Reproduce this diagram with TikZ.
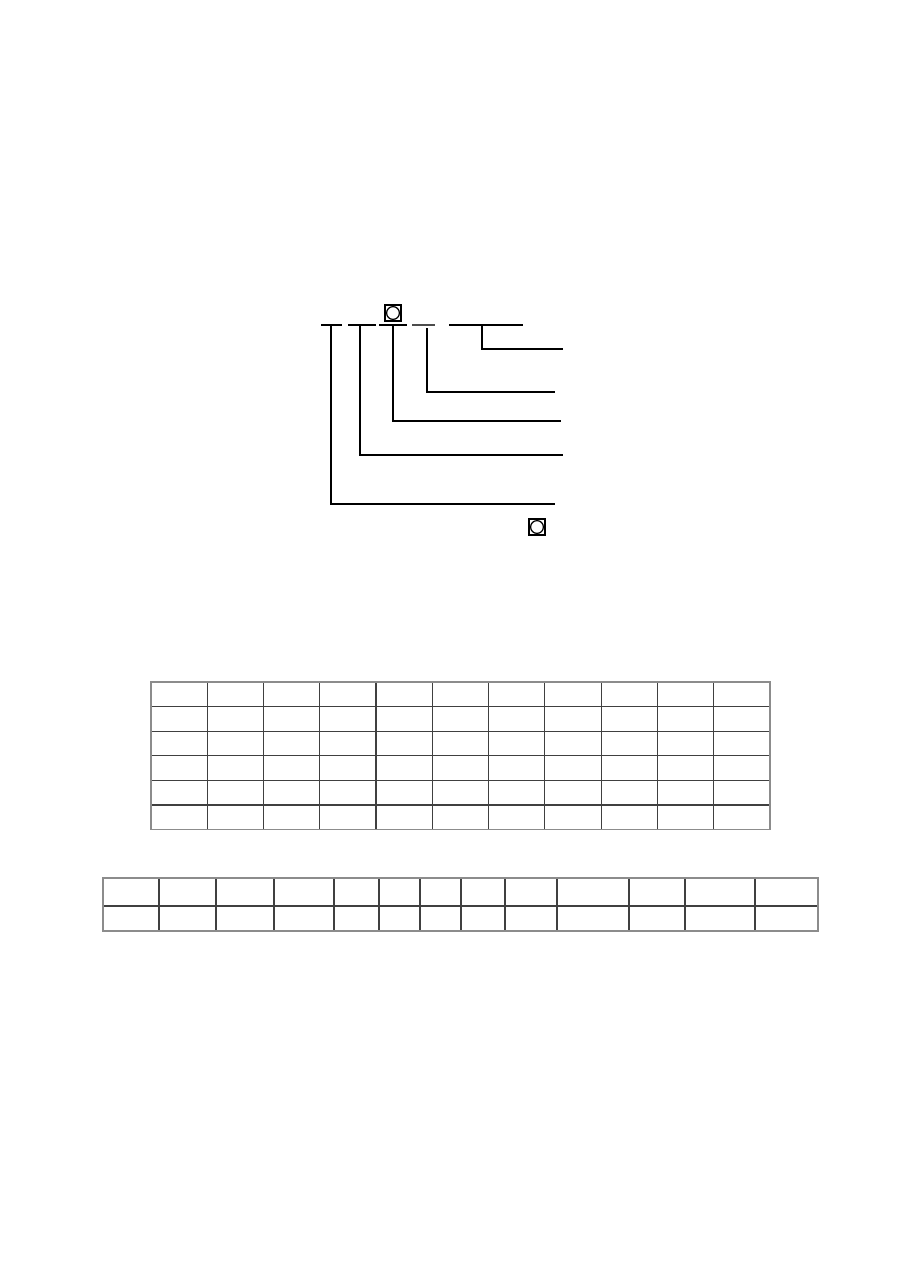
\documentclass[tikz,border=0pt]{standalone}
\usepackage{xcolor}
\usepackage{tikz}
\tikzstyle{node:box}=[draw,line width=0.6pt,minimum size=8pt,inner sep=0pt,
  path picture={\draw[line width=0.6pt] (path picture bounding box.center) circle (3.2pt);}]
\tikzstyle{draw:bar}=[line width=0.6pt]
\tikzstyle{draw:leader}=[line width=0.6pt]
\tikzstyle{draw:frame}=[line width=0.7pt,black!45]
\tikzstyle{draw:grid}=[line width=0.6pt,black!75]

\begin{document}
\begin{tikzpicture}[x=0.5pt,y=-0.5pt]
        \useasboundingbox (0,0) rectangle (909,1286);

        % Code bars
        \coordinate (u1a) at (321,325); \coordinate (u1b) at (342,325);
        \coordinate (u2a) at (348,325); \coordinate (u2b) at (376,325);
        \coordinate (u3a) at (379,325); \coordinate (u3b) at (407,325);
        \coordinate (u4a) at (412,325); \coordinate (u4b) at (435,325);
        \coordinate (u5a) at (449,325); \coordinate (u5b) at (523,325);
        \draw[draw:bar] (u1a) -- (u1b);
        \draw[draw:bar] (u2a) -- (u2b);
        \draw[draw:bar] (u3a) -- (u3b);
        \draw[draw:bar,black!70] (u4a) -- (u4b);
        \draw[draw:bar] (u5a) -- (u5b);

        % Boxes
        \node[node:box] (box1) at (393,313) {};
        \node[node:box] (box2) at (537,527) {};

        % Leader feet and ends
        \coordinate (t1) at (331,325); \coordinate (e1) at (555,504);
        \coordinate (t2) at (360,325); \coordinate (e2) at (563,455);
        \coordinate (t3) at (393,325); \coordinate (e3) at (561,421);
        \coordinate (t4) at (427,328); \coordinate (e4) at (555,392);
        \coordinate (t5) at (482,325); \coordinate (e5) at (563,349);

        % Leaders
        \draw[draw:leader] (t1) |- (e1);
        \draw[draw:leader] (t2) |- (e2);
        \draw[draw:leader] (t3) |- (e3);
        \draw[draw:leader] (t4) |- (e4);
        \draw[draw:leader] (t5) |- (e5);

        % Table one
        \foreach \j in {1,...,5}
          \draw[draw:grid] (151,682+24.6*\j) -- (770,682+24.6*\j);
        \foreach \i in {1,...,10}
          \draw[draw:grid] (151+56.27*\i,682) -- (151+56.27*\i,829.6);
        \draw[draw:frame] (151,682) rectangle (770,829.6);

        % Table two
        \draw[draw:grid] (103,906) -- (818,906);
        \foreach \x in {159,216,274,334,379,420,461,505,557,629,685,755}
          \draw[draw:grid] (\x,878) -- (\x,931);
        \draw[draw:frame] (103,878) rectangle (818,931);

    \end{tikzpicture}
\end{document}
